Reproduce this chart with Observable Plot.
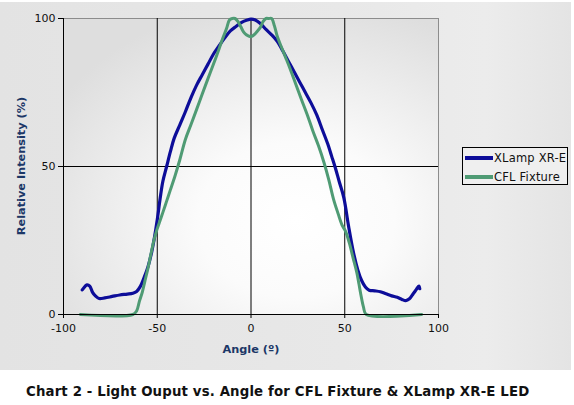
<!DOCTYPE html>
<html>
<head>
<meta charset="utf-8">
<script src="https://cdn.jsdelivr.net/npm/d3@7"></script>
<script src="https://cdn.jsdelivr.net/npm/@observablehq/plot@0.6"></script>
<style>
  html, body { margin: 0; padding: 0; background: #ffffff; }
  #wrap { position: relative; width: 574px; height: 405px; overflow: hidden; background: #fff; font-family: "DejaVu Sans", Verdana, sans-serif; }
  #panel { position: absolute; left: 0; top: 2px; width: 571px; height: 368px; background: linear-gradient(90deg, #e3e3e3 0%, #e8e8e8 60%, #ececec 85%, #e4e4e4 100%); }
  #chart { position: absolute; left: 0; top: 0; }
  .axtitle { position: absolute; font-weight: bold; font-size: 11.3px; color: #1c3767; white-space: nowrap; }
  #xtitle { left: 251px; top: 349px; transform: translate(-50%, -50%); }
  #ytitle { left: 21px; top: 166px; transform: translate(-50%, -50%) rotate(-90deg); }
  #legend { position: absolute; left: 462px; top: 147px; width: 104px; height: 36px; border: 1px solid #000; background: #efefef; font-size: 11.5px; letter-spacing: 0.2px; color: #111; }
  .lrow { position: absolute; left: 2px; height: 14px; display: flex; align-items: center; }
  .lline { width: 28px; height: 4px; margin-right: 1px; }
  #caption { position: absolute; left: 26px; top: 384px; font-weight: bold; font-size: 13.3px; letter-spacing: 0.15px; color: #111; white-space: nowrap; }
</style>
</head>
<body>
<div id="wrap">
  <div id="panel"></div>
  <div id="chart"></div>
  <div id="xtitle" class="axtitle">Angle (º)</div>
  <div id="ytitle" class="axtitle">Relative Intensity (%)</div>
  <div id="legend">
    <div class="lrow" style="top:3px"><div class="lline" style="background:#0d0d99"></div><span>XLamp XR-E</span></div>
    <div class="lrow" style="top:22px"><div class="lline" style="background:#4f9b74"></div><span>CFL Fixture</span></div>
  </div>
  <div id="caption">Chart 2 - Light Ouput vs. Angle for CFL Fixture &amp; XLamp XR-E LED</div>
</div>
<script>
// ---- data ----
const xTicks = [-100, -50, 0, 50, 100];
const yTicks = [0, 50, 100];
const gridAngles = [-50, 0, 50];
const gridIntensity = [50];

const xlampAngle = [-90, -88.5, -87.5, -86, -84.5, -83, -81, -78, -74, -70, -66, -63, -61, -59, -57, -55, -53, -51.5, -50, -48.5, -47, -45, -43, -41, -38, -35, -32, -29, -26, -23, -20, -17, -14, -11, -8, -5, -2, 0, 2, 5, 8, 11, 14, 17, 20, 23, 26, 29, 32, 35, 38, 41, 43, 45, 47, 49.5, 52, 54.8, 57, 59, 61, 63, 66, 69, 72, 75, 78, 80.5, 82.5, 84.5, 86.5, 88, 89.5, 90];
const xlampValue = [8.3, 9.5, 10, 9.6, 7.5, 6.3, 5.4, 5.6, 6.1, 6.6, 6.9, 7.2, 7.8, 9.5, 12.5, 16, 21, 26, 32, 39, 45, 50, 55, 59.5, 64, 68.5, 73.3, 77.5, 81, 84.5, 88, 90.8, 93.5, 95.8, 97.3, 98.7, 99.5, 99.8, 99.6, 98.3, 96.3, 94.5, 92.3, 89, 85.5, 82, 78.5, 75, 71.5, 67.5, 62.5, 57.5, 53.5, 49.5, 45, 39.5, 30, 20.5, 15, 11.5, 9.3, 8.2, 8, 7.7, 7, 6.3, 5.8, 5.1, 4.7, 5.3, 7, 8.3, 9.6, 8.7];

const cflAngle = [-91, -63, -61, -59.5, -58, -56.5, -55, -53.5, -52, -50.5, -49, -47, -45, -43, -40.5, -38, -35, -32, -29, -26, -23, -20, -17, -15, -13, -11.5, -10, -8.5, -7, -5.5, -4, -2.5, -1, 0.5, 2, 3.5, 5, 6.5, 8, 9.5, 11, 12.5, 14, 16, 18.5, 21, 24, 27, 30, 33, 36, 39, 41.5, 44, 46.5, 48.5, 50.5, 52.5, 54.5, 56.5, 58.5, 60, 61.5, 91];
const cflValue = [0, 0, 1.2, 4.5, 7.5, 11.5, 15.5, 20, 24.5, 28, 30.8, 34.5, 38.3, 42.1, 46.9, 52.2, 59.1, 64.2, 69.3, 74.5, 79.6, 84.6, 89.8, 93.4, 96.7, 99.5, 100, 100, 99, 97.3, 95.5, 94.5, 94, 94, 94.7, 95.8, 97, 99, 100, 100, 100, 97.5, 94, 90.7, 86.8, 82.8, 77.6, 72.5, 67.5, 62, 57, 51.2, 45.5, 39, 34, 30.3, 28, 24, 19, 14, 7, 2.5, 0, 0];

const xlamp = xlampAngle.map((a, i) => ({angle: a, value: xlampValue[i]}));
const cfl = cflAngle.map((a, i) => ({angle: a, value: cflValue[i]}));

const defsMark = () => {
  const defs = document.createElementNS("http://www.w3.org/2000/svg", "defs");
  defs.innerHTML = '<radialGradient id="plotbg" cx="62%" cy="68%" r="75%">' +
    '<stop offset="0" stop-color="#ffffff"/><stop offset="0.35" stop-color="#fbfbfb"/>' +
    '<stop offset="1" stop-color="#dedede"/></radialGradient>';
  return defs;
};

const chart = Plot.plot({
  width: 450,
  height: 362,
  marginLeft: 63,
  marginRight: 12,
  marginTop: 18,
  marginBottom: 48,
  style: {background: "transparent", fontFamily: "'DejaVu Sans', Verdana, sans-serif", fontSize: "11px", color: "#111", overflow: "visible"},
  x: {domain: [-100, 100], label: null},
  y: {domain: [0, 100], label: null},
  marks: [
    defsMark,
    Plot.frame({fill: "url(#plotbg)", stroke: "#8c8c8c", strokeWidth: 1}),
    Plot.ruleX(gridAngles, {stroke: "#000", strokeWidth: 1}),
    Plot.ruleY(gridIntensity, {stroke: "#000", strokeWidth: 1}),
    Plot.line(xlamp, {x: "angle", y: "value", stroke: "#0d0d99", strokeWidth: 3.2, curve: "catmull-rom", strokeLinejoin: "round"}),
    Plot.line(cfl, {x: "angle", y: "value", stroke: "#4f9b74", strokeWidth: 3, curve: "catmull-rom", strokeLinejoin: "round"}),
    Plot.ruleX([-100], {stroke: "#000"}),
    Plot.ruleY([0], {stroke: "#000"}),
    Plot.axisX({ticks: xTicks, tickFormat: d => String(d), tickSize: 4, tickPadding: 6, label: null, stroke: "#000", fill: "#111"}),
    Plot.axisY({ticks: yTicks, tickFormat: d => String(d), tickSize: 5, tickPadding: 3, label: null, stroke: "#000", fill: "#111"})
  ]
});
document.getElementById("chart").appendChild(chart);
</script>
</body>
</html>
